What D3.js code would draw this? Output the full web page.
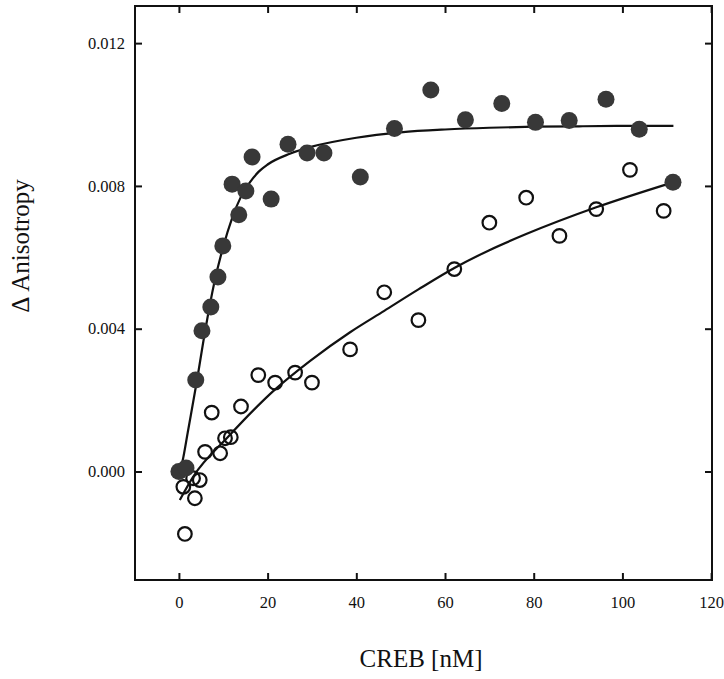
<!DOCTYPE html>
<html>
<head>
<meta charset="utf-8">
<script src="https://cdn.jsdelivr.net/npm/d3@7"></script>
<style>
  body { margin: 0; background: #fff; }
  text { font-family: "Liberation Serif", "Times New Roman", serif; }
</style>
</head>
<body>
<div id="vis-container"></div>
<script>
const width = 724;
const height = 679;
const margin = { top: 6, right: 12, bottom: 99, left: 135 };

// filled circles (CREB binding, first series)
const filledX = [0, 1.6, 3.8, 5.2, 7.2, 8.8, 9.9, 12.0, 13.5, 15.1, 16.5, 20.8, 24.6, 28.9, 32.7, 40.9,
                 48.6, 56.8, 64.6, 72.8, 80.4, 88.0, 96.3, 103.8, 111.4];
const filledY = [0.0000, 0.0001, 0.00256, 0.00394, 0.00461, 0.00545, 0.00632, 0.00805, 0.00719, 0.00786,
                 0.00881, 0.00763, 0.00917, 0.00892, 0.00892, 0.00825,
                 0.00961, 0.01069, 0.00985, 0.01031, 0.00978, 0.00983, 0.01043, 0.00959, 0.0081];

// open circles (second series)
const openX = [1.0, 1.35, 3.2, 3.6, 4.7, 5.9, 7.4, 9.3, 10.4, 11.7, 14.0, 17.9, 21.7, 26.2, 30.0,
               38.6, 46.3, 54.0, 62.1, 70.0, 78.3, 85.8, 94.1, 101.7, 109.3];
const openY = [-0.00043, -0.00175, -0.00019, -0.00075, -0.00024, 0.00055, 0.00165, 0.00051, 0.00093, 0.00096,
               0.00182, 0.0027, 0.00249, 0.00277, 0.00249,
               0.00342, 0.00502, 0.00424, 0.00567, 0.00697, 0.00767, 0.0066, 0.00735, 0.00845, 0.0073];

// fitted curves
const fitFilledX = [0, 1, 2, 4, 6, 8, 10, 12, 14, 16, 18, 20, 25, 30, 40, 50, 60, 70, 80, 90, 100, 111.5];
const fitFilledY = [-0.0001, 0.0004, 0.0011, 0.0025, 0.0040, 0.0053, 0.0063, 0.0071, 0.0077, 0.0081, 0.0084,
                    0.0086, 0.0089, 0.0091, 0.00935, 0.0095, 0.00958, 0.00963, 0.00966, 0.00967, 0.00968, 0.00968];
const fitOpenX = [0.2, 3.2, 11.1, 21.7, 29.6, 38.6, 46.3, 54, 62.1, 70, 78.3, 94.1, 111.4];
const fitOpenY = [-0.0008, -0.00015, 0.00097, 0.0023, 0.0031, 0.0039, 0.0045, 0.0051, 0.0057, 0.0062, 0.00665, 0.0074, 0.0081];

const xTicks = [0, 20, 40, 60, 80, 100, 120];
const yTicks = [0.000, 0.004, 0.008, 0.012];

const svg = d3.select("#vis-container")
  .append("svg")
  .attr("width", width)
  .attr("height", height);

const x = d3.scaleLinear()
  .domain([-9.9, 120.2])
  .range([margin.left, width - margin.right]);

const y = d3.scaleLinear()
  .domain([-0.00304, 0.01304])
  .range([height - margin.bottom, margin.top]);

// axes, ticks inward
svg.append("g")
  .attr("transform", `translate(0,${height - margin.bottom})`)
  .call(d3.axisBottom(x).tickValues(xTicks).tickSize(-7).tickPadding(16).tickFormat(d3.format("d")))
  .attr("font-size", "16.5px");

svg.append("g")
  .attr("transform", `translate(0,${margin.top})`)
  .call(d3.axisTop(x).tickValues(xTicks).tickSize(-7).tickFormat(""));

svg.append("g")
  .attr("transform", `translate(${margin.left},0)`)
  .call(d3.axisLeft(y).tickValues(yTicks).tickSize(-7).tickPadding(10).tickFormat(d3.format(".3f")))
  .attr("font-size", "16.5px");

svg.append("g")
  .attr("transform", `translate(${width - margin.right},0)`)
  .call(d3.axisRight(y).tickValues(yTicks).tickSize(-7).tickFormat(""));

svg.selectAll(".domain").remove();
svg.selectAll(".tick line").attr("stroke", "#111").attr("stroke-width", 2);
svg.selectAll(".tick text").attr("fill", "#111").attr("font-family", "Liberation Serif");

// frame
svg.append("rect")
  .attr("x", margin.left)
  .attr("y", margin.top)
  .attr("width", width - margin.left - margin.right)
  .attr("height", height - margin.top - margin.bottom)
  .attr("fill", "none")
  .attr("stroke", "#111")
  .attr("stroke-width", 2);

// fit lines
const line = d3.line()
  .x((d) => x(d[0]))
  .y((d) => y(d[1]))
  .curve(d3.curveMonotoneX);

svg.append("path")
  .datum(fitFilledX.map((v, i) => [v, fitFilledY[i]]))
  .attr("d", line)
  .attr("fill", "none")
  .attr("stroke", "#111")
  .attr("stroke-width", 2.2);

svg.append("path")
  .datum(fitOpenX.map((v, i) => [v, fitOpenY[i]]))
  .attr("d", line)
  .attr("fill", "none")
  .attr("stroke", "#111")
  .attr("stroke-width", 2.2);

// points
svg.selectAll(".open")
  .data(openX.map((v, i) => [v, openY[i]]))
  .enter()
  .append("circle")
  .attr("class", "open")
  .attr("cx", (d) => x(d[0]))
  .attr("cy", (d) => y(d[1]))
  .attr("r", 6.8)
  .attr("fill", "none")
  .attr("stroke", "#111")
  .attr("stroke-width", 2.2);

svg.selectAll(".filled")
  .data(filledX.map((v, i) => [v, filledY[i]]))
  .enter()
  .append("circle")
  .attr("class", "filled")
  .attr("cx", (d) => x(d[0]))
  .attr("cy", (d) => y(d[1]))
  .attr("r", 8.5)
  .attr("fill", "#383838");

// axis titles
svg.append("text")
  .attr("x", 421)
  .attr("y", 667)
  .attr("text-anchor", "middle")
  .attr("font-size", "25px")
  .attr("fill", "#111")
  .text("CREB [nM]");

svg.append("text")
  .attr("transform", "translate(29,246) rotate(-90)")
  .attr("text-anchor", "middle")
  .attr("font-size", "25px")
  .attr("fill", "#111")
  .text("Δ Anisotropy");
</script>
</body>
</html>
